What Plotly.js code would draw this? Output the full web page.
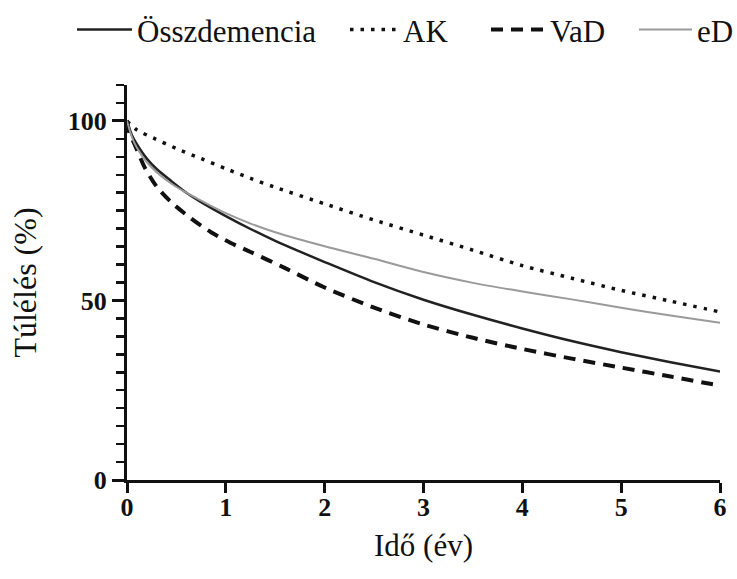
<!DOCTYPE html>
<html>
<head>
<meta charset="utf-8">
<script src="https://cdn.plot.ly/plotly-3.0.1.min.js"></script>
<style>html,body{margin:0;padding:0;background:#fff;}#chart{width:737px;height:579px;}</style>
</head>
<body>
<div id="chart"></div>
<script>
// Time (years) and survival (%)
const tOssz = [0, 0.05, 0.1, 0.2, 0.3, 0.45, 0.6, 0.75, 1, 1.25, 1.5, 1.75, 2, 2.5, 3, 3.5, 4, 4.5, 5, 5.5, 6];
const vOssz = [100, 96, 93.5, 89.5, 86.6, 83.2, 80.0, 77.4, 73.5, 69.9, 66.6, 63.6, 60.7, 55.1, 50.2, 46.0, 42.2, 38.7, 35.6, 32.8, 30.2];

const tAK = [0, 0.1, 0.27, 0.5, 0.75, 1, 1.25, 1.5, 2, 2.5, 3, 3.5, 4, 4.5, 5, 5.5, 6];
const vAK = [100, 97.5, 95.2, 92.3, 89.5, 86.7, 84.0, 81.5, 76.9, 72.4, 68.2, 64.0, 59.7, 56.2, 52.8, 49.8, 46.8];

const tVaD = [0, 0.03, 0.06, 0.1, 0.18, 0.3, 0.45, 0.65, 0.85, 1.05, 1.25, 1.6, 2, 2.5, 3, 3.5, 4, 4.5, 5, 5.5, 6];
const vVaD = [100, 96, 94.5, 92, 87, 81.7, 77.3, 72.8, 69.0, 66.0, 63.5, 59.0, 53.6, 48.0, 43.3, 39.6, 36.5, 33.8, 31.3, 28.8, 26.3];

const tED = [0, 0.05, 0.1, 0.2, 0.3, 0.45, 0.6, 0.75, 1, 1.25, 1.5, 2, 2.5, 3, 3.5, 4, 4.5, 5, 5.5, 6];
const vED = [100, 95.5, 92.5, 88.5, 85.7, 82.5, 80.0, 77.8, 74.3, 71.4, 69.0, 65.1, 61.6, 57.9, 54.9, 52.5, 50.3, 48.0, 45.8, 43.8];

const names = ['Összdemencia', 'AK', 'VaD', 'eD'];
const xTicks = [0, 1, 2, 3, 4, 5, 6];
const yTicks = [0, 50, 100];

const serif = 'Liberation Serif';

function leg(px, iw) {
  return {orientation: 'h', xref: 'container', yref: 'container', x: px / 737, xanchor: 'left', y: 0.995, yanchor: 'top',
          font: {family: serif, size: 31, color: '#111'}, itemwidth: iw, bgcolor: 'rgba(0,0,0,0)', borderwidth: 0};
}

const traces = [
  {x: tOssz, y: vOssz, name: names[0], legend: 'legend', mode: 'lines', line: {color: '#222222', width: 2.5, shape: 'spline', smoothing: 0.8}},
  {x: tAK, y: vAK, name: names[1], legend: 'legend2', mode: 'lines', line: {color: '#111111', width: 3.5, dash: '3.5px,7px', shape: 'spline', smoothing: 0.8}},
  {x: tVaD, y: vVaD, name: names[2], legend: 'legend3', mode: 'lines', line: {color: '#111111', width: 4, dash: '12px,8px', shape: 'spline', smoothing: 0.8}},
  {x: tED, y: vED, name: names[3], legend: 'legend4', mode: 'lines', line: {color: '#9a9a9a', width: 2, shape: 'spline', smoothing: 0.8}}
];

const layout = {
  width: 737, height: 579,
  margin: {l: 127, r: 17, t: 85, b: 99},
  paper_bgcolor: '#ffffff', plot_bgcolor: '#ffffff',
  showlegend: true,
  legend: leg(72, 55), legend2: leg(345, 48), legend3: leg(486, 54), legend4: leg(634, 53),
  xaxis: {
    range: [0, 6], tickvals: xTicks, ticktext: xTicks.map(String),
    showgrid: false, zeroline: false, showline: true, linecolor: '#111', linewidth: 3,
    ticks: 'outside', ticklen: 10, tickwidth: 3, tickcolor: '#111',
    ticklabelstandoff: -8,
    tickfont: {family: serif, size: 26, color: '#111', weight: 'bold'},
    title: {text: 'Idő (év)', font: {family: serif, size: 31, color: '#111'}, standoff: 14},
    fixedrange: true
  },
  yaxis: {
    range: [0, 110], tickvals: yTicks, ticktext: yTicks.map(String),
    showgrid: false, zeroline: false, showline: true, linecolor: '#111', linewidth: 3,
    ticks: 'outside', ticklen: 12, tickwidth: 3, tickcolor: '#111',
    minor: {dtick: 5, tick0: 0, ticks: 'outside', ticklen: 8, tickwidth: 2.5, tickcolor: '#111', showgrid: false},
    tickfont: {family: serif, size: 26, color: '#111', weight: 'bold'},
    title: {text: 'Túlélés (%)', font: {family: serif, size: 32, color: '#111'}, standoff: 22},
    fixedrange: true
  }
};

Plotly.newPlot('chart', traces, layout, {displayModeBar: false, staticPlot: true});
</script>
</body>
</html>
